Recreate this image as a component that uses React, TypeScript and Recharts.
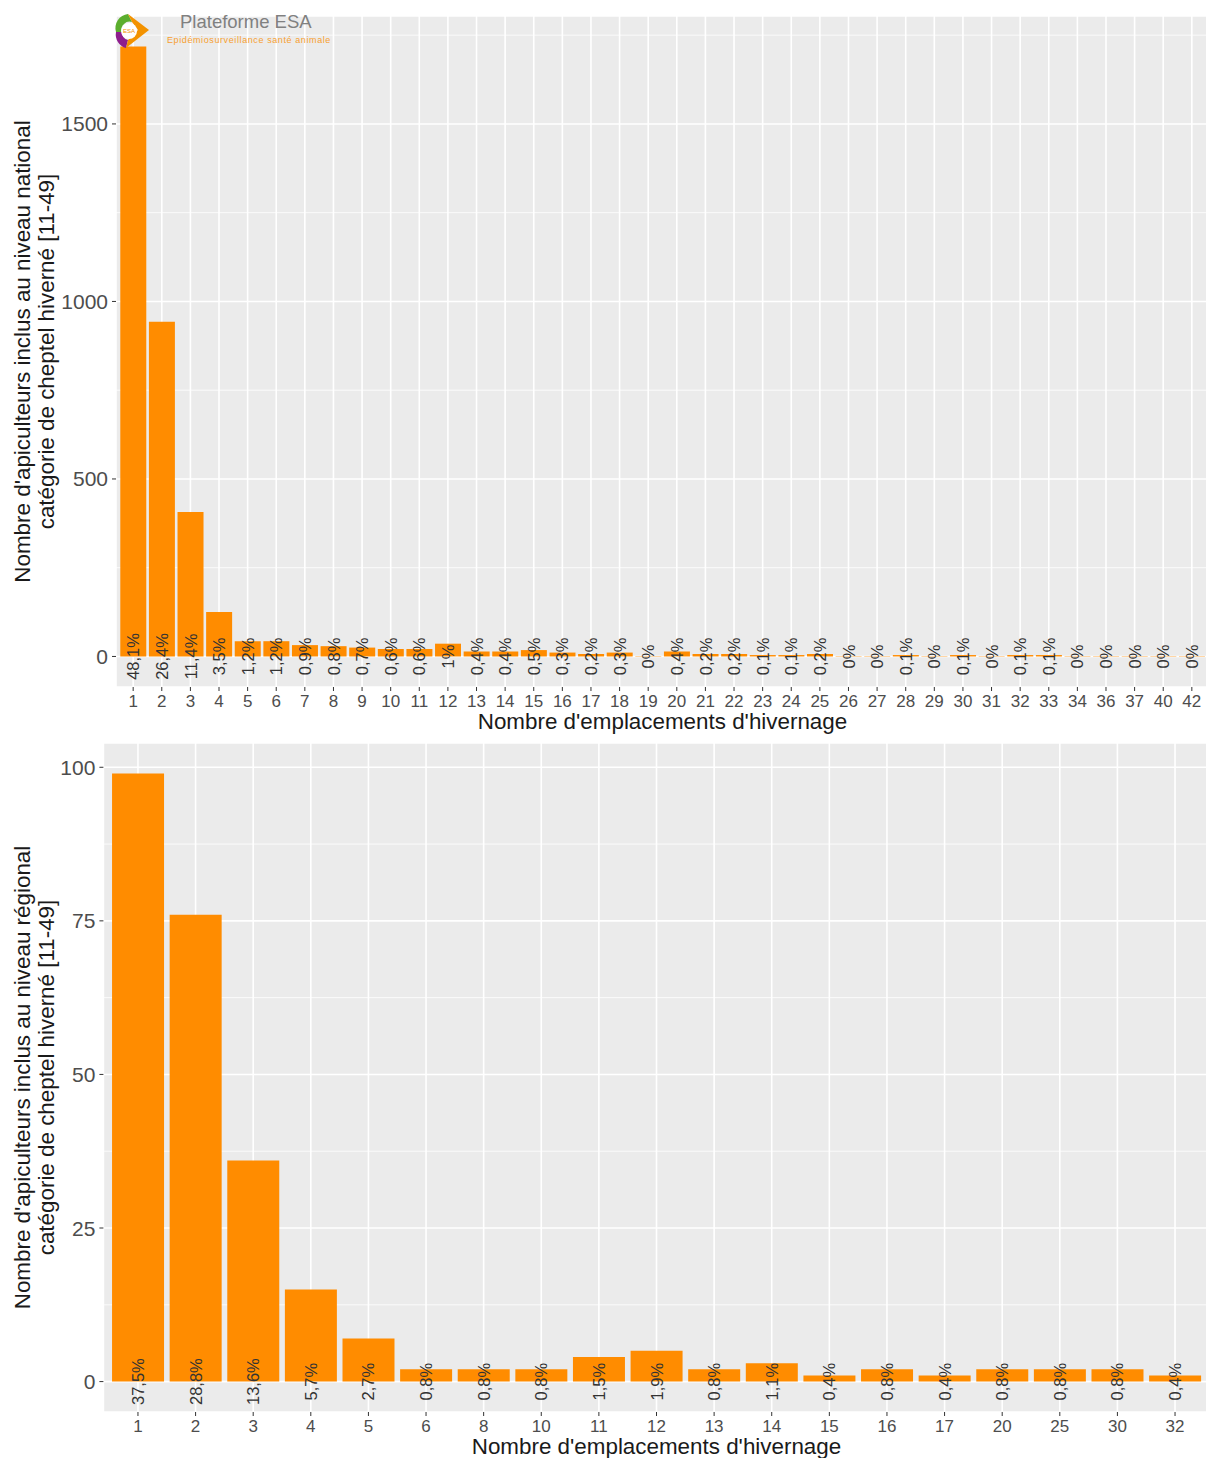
import React from "react";
import {
  BarChart,
  Bar,
  XAxis,
  YAxis,
  CartesianGrid,
  LabelList,
} from "recharts";

const ORANGE = "#FF8C00";
const PANEL = "#EBEBEB";
const TICK_TEXT = "#4D4D4D";
const FONT = "'Liberation Sans', Arial, sans-serif";

// national level
const nationalCategories = [
  "1", "2", "3", "4", "5", "6", "7", "8", "9", "10", "11", "12", "13", "14", "15", "16",
  "17", "18", "19", "20", "21", "22", "23", "24", "25", "26", "27", "28", "29", "30",
  "31", "32", "33", "34", "36", "37", "40", "42",
];
const nationalCounts = [
  1718, 943, 407, 125, 43, 43, 32, 29, 25, 21, 21, 36, 14, 14, 18, 11, 7, 11, 1, 14, 7,
  7, 4, 4, 7, 1, 1, 4, 1, 4, 1, 4, 4, 1, 1, 1, 1, 1,
];
const nationalPct = [
  "48,1%", "26,4%", "11,4%", "3,5%", "1,2%", "1,2%", "0,9%", "0,8%", "0,7%", "0,6%",
  "0,6%", "1%", "0,4%", "0,4%", "0,5%", "0,3%", "0,2%", "0,3%", "0%", "0,4%", "0,2%",
  "0,2%", "0,1%", "0,1%", "0,2%", "0%", "0%", "0,1%", "0%", "0,1%", "0%", "0,1%",
  "0,1%", "0%", "0%", "0%", "0%", "0%",
];
const nationalTicks = [0, 500, 1000, 1500];
const nationalMinor = [250, 750, 1250, 1750];

// regional level
const regionalCategories = [
  "1", "2", "3", "4", "5", "6", "8", "10", "11", "12", "13", "14", "15", "16", "17",
  "20", "25", "30", "32",
];
const regionalCounts = [99, 76, 36, 15, 7, 2, 2, 2, 4, 5, 2, 3, 1, 2, 1, 2, 2, 2, 1];
const regionalPct = [
  "37,5%", "28,8%", "13,6%", "5,7%", "2,7%", "0,8%", "0,8%", "0,8%", "1,5%", "1,9%",
  "0,8%", "1,1%", "0,4%", "0,8%", "0,4%", "0,8%", "0,8%", "0,8%", "0,4%",
];
const regionalTicks = [0, 25, 50, 75, 100];
const regionalMinor = [12.5, 37.5, 62.5, 87.5];

const X_TITLE = "Nombre d'emplacements d'hivernage";

function YTitle({ viewBox, lines }: any) {
  const cy = viewBox.y + viewBox.height / 2;
  return (
    <g>
      {lines.map((t: string, i: number) => (
        <text
          key={i}
          x={22 + i * 24}
          y={cy}
          transform={`rotate(-90 ${22 + i * 24} ${cy})`}
          textAnchor="middle"
          dominantBaseline="central"
          fontSize={22.4}
          fontFamily={FONT}
          fill="#1A1A1A"
        >
          {t}
        </text>
      ))}
    </g>
  );
}

function XTitle({ viewBox }: any) {
  return (
    <text
      x={viewBox.x + viewBox.width / 2}
      y={viewBox.y + 34}
      textAnchor="middle"
      dominantBaseline="central"
      fontSize={22.4}
      fontFamily={FONT}
      fill="#1A1A1A"
    >
      {X_TITLE}
    </text>
  );
}

function XTick({ x, y, payload, fontSize }: any) {
  return (
    <text
      x={x}
      y={y + 8}
      textAnchor="middle"
      dominantBaseline="central"
      fontSize={fontSize}
      fontFamily={FONT}
      fill={TICK_TEXT}
    >
      {payload.value}
    </text>
  );
}

function YTick({ x, y, payload }: any) {
  return (
    <text
      x={x - 2}
      y={y}
      textAnchor="end"
      dominantBaseline="central"
      fontSize={21}
      fontFamily={FONT}
      fill={TICK_TEXT}
    >
      {payload.value}
    </text>
  );
}

function PctLabel({ x, y, width, height, value }: any) {
  const cx = x + width / 2;
  const cy = y + height;
  return (
    <text
      x={cx}
      y={cy}
      transform={`rotate(-90 ${cx} ${cy})`}
      textAnchor="middle"
      dominantBaseline="central"
      fontSize={16.5}
      fontFamily={FONT}
      fill="#333333"
    >
      {value}
    </text>
  );
}

function Panel({
  data,
  width,
  height,
  margin,
  axisHeight,
  yWidth,
  pad,
  domain,
  ticks,
  minor,
  xFont,
  lines,
}: any) {
  return (
    <BarChart
      width={width}
      height={height}
      data={data}
      margin={margin}
      barCategoryGap="5%"
    >
      <CartesianGrid
        fill={PANEL}
        fillOpacity={1}
        stroke="#FFFFFF"
        strokeWidth={0.8}
        vertical={false}
        horizontalValues={minor}
      />
      <CartesianGrid stroke="#FFFFFF" strokeWidth={1.6} fill="none" />
      <XAxis
        dataKey="cat"
        type="category"
        interval={0}
        padding={{ left: pad, right: pad }}
        axisLine={false}
        tickLine={{ stroke: "#333333" }}
        tickSize={4}
        tick={<XTick fontSize={xFont} />}
        height={axisHeight}
        label={<XTitle />}
      />
      <YAxis
        type="number"
        domain={domain}
        ticks={ticks}
        allowDataOverflow
        width={yWidth}
        axisLine={false}
        tickLine={{ stroke: "#333333" }}
        tickSize={4}
        tick={<YTick />}
        label={<YTitle lines={lines} />}
      />
      <Bar dataKey="n" fill={ORANGE} isAnimationActive={false}>
        <LabelList dataKey="pct" content={<PctLabel />} />
      </Bar>
    </BarChart>
  );
}

function Logo() {
  return (
    <svg
      width={340}
      height={60}
      style={{ position: "absolute", left: 0, top: 0, pointerEvents: "none" }}
    >
      <path d="M 116 32 A 14 14 0 0 1 128 14 L 132 22 A 8 8 0 0 0 122 32 Z" fill="#5BAE2E" />
      <path d="M 116 32 A 14 14 0 0 0 126 48 L 128 40 A 8 8 0 0 1 122 32 Z" fill="#8E1E8E" />
      <path d="M 128 14 L 149 30 L 126 48 L 128 40 L 138 30 L 132 22 Z" fill="#F39200" />
      <circle cx={129} cy={31} r={8} fill="#FFFFFF" />
      <text x={129} y={33} textAnchor="middle" fontSize={6} fill="#F39200" fontFamily={FONT}>
        ESA
      </text>
      <text x={180} y={28} fontSize={18.5} fill="#808080" fontFamily={FONT}>
        Plateforme ESA
      </text>
      <text
        x={167}
        y={43}
        fontSize={9}
        letterSpacing={0.6}
        fill="#F7A030"
        fontFamily={FONT}
      >
        Epidémiosurveillance santé animale
      </text>
    </svg>
  );
}

export default function App() {
  const national = nationalCategories.map((c, i) => ({
    cat: c,
    n: nationalCounts[i],
    pct: nationalPct[i],
  }));
  const regional = regionalCategories.map((c, i) => ({
    cat: c,
    n: regionalCounts[i],
    pct: regionalPct[i],
  }));
  return (
    <div
      style={{
        position: "absolute",
        left: 0,
        top: 0,
        width: 1206,
        height: 1458,
        overflow: "hidden",
        background: "#FFFFFF",
      }}
    >
      <div style={{ position: "absolute", left: 0, top: 0 }}>
        <Panel
          data={national}
          width={1212}
          height={735}
          margin={{ top: 16, right: 3, bottom: 0, left: 0 }}
          axisHeight={48}
          yWidth={116}
          pad={2.86}
          domain={[-86, 1804]}
          ticks={nationalTicks}
          minor={nationalMinor}
          xFont={17}
          lines={[
            "Nombre d'apiculteurs inclus au niveau national",
            "catégorie de cheptel hiverné [11-49]",
          ]}
        />
      </div>
      <div style={{ position: "absolute", left: 0, top: 735 }}>
        <Panel
          data={regional}
          width={1212}
          height={723}
          margin={{ top: 8, right: 2.4, bottom: 0, left: 0 }}
          axisHeight={46}
          yWidth={103.4}
          pad={5.76}
          domain={[-4.95, 103.95]}
          ticks={regionalTicks}
          minor={regionalMinor}
          xFont={17}
          lines={[
            "Nombre d'apiculteurs inclus au niveau régional",
            "catégorie de cheptel hiverné [11-49]",
          ]}
        />
      </div>
      <Logo />
    </div>
  );
}
